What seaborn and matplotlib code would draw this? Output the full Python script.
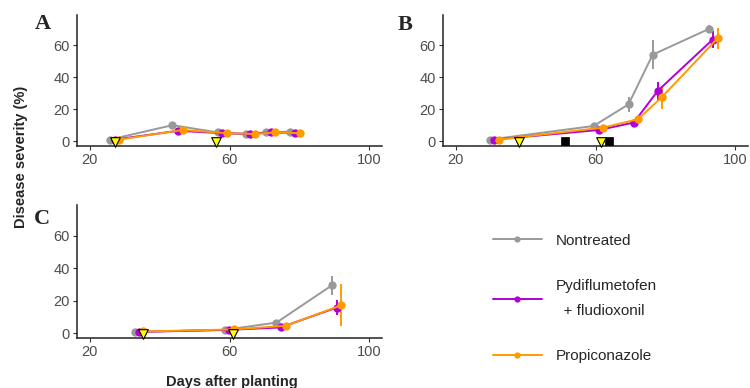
import numpy as np
import pandas as pd
import matplotlib
matplotlib.use("Agg")
import matplotlib.pyplot as plt
from matplotlib.lines import Line2D
import seaborn as sns

sns.set_theme(style="white")
plt.rcParams['font.family'] = ['Liberation Sans', 'DejaVu Sans']

treatments = ["Nontreated", "Pydiflumetofen + fludioxonil", "Propiconazole"]
colors = {"Nontreated": "#999999",
          "Pydiflumetofen + fludioxonil": "#B000D8",
          "Propiconazole": "#FF9A00"}

# Panel A
a_days_nt = [25.7, 43.6, 56.6, 64.8, 70.5, 77.4]
a_sev_nt = [1, 10, 5.5, 4.5, 5.5, 6]
a_err_nt = [0.5, 1.0, 0.5, 0.5, 0.5, 0.5]
a_days_pf = [27.1, 45.2, 57.9, 65.9, 71.9, 78.8]
a_sev_pf = [1, 6.5, 5, 4.5, 5.5, 5]
a_err_pf = [0.3, 0.8, 0.5, 0.5, 0.5, 0.5]
a_days_pr = [28.4, 46.5, 59.3, 67.2, 73.1, 80.2]
a_sev_pr = [1, 7, 5, 4.5, 5.5, 5]
a_err_pr = [0.3, 0.8, 0.5, 0.5, 0.5, 0.5]
a_spray = [27.1, 56.2]
a_other = []

# Panel B
b_days_nt = [29.7, 59.4, 69.4, 76.3, 92.3]
b_sev_nt = [1, 9.5, 23, 54, 70]
b_err_nt = [0.5, 1.5, 4.5, 9, 2.5]
b_days_pf = [30.9, 60.9, 70.9, 77.8, 93.5]
b_sev_pf = [1, 7, 11.6, 31.5, 63.5]
b_err_pf = [0.5, 1, 1, 5.5, 5]
b_days_pr = [32.3, 62.1, 72.1, 78.9, 94.9]
b_sev_pr = [1, 8.5, 13.7, 27.4, 64.2]
b_err_pr = [0.5, 1, 1, 7, 6.5]
b_spray = [38.0, 61.6]
b_other = [51.1, 63.9]

# Panel C
c_days_nt = [32.9, 58.6, 73.4, 89.2]
c_sev_nt = [0.7, 2, 6.5, 29.3]
c_err_nt = [0.3, 0.5, 1, 6]
c_days_pf = [34.1, 59.8, 74.6, 90.6]
c_sev_pf = [0.8, 2, 3.5, 15.7]
c_err_pf = [0.3, 0.5, 0.8, 4.5]
c_days_pr = [35.2, 61.2, 76.0, 91.9]
c_sev_pr = [1, 2.3, 4.5, 17.1]
c_err_pr = [0.3, 0.5, 0.8, 13]
c_spray = [35.2, 60.9]
c_other = []

panels = {
    "A": ([a_days_nt, a_days_pf, a_days_pr], [a_sev_nt, a_sev_pf, a_sev_pr],
          [a_err_nt, a_err_pf, a_err_pr], a_spray, a_other),
    "B": ([b_days_nt, b_days_pf, b_days_pr], [b_sev_nt, b_sev_pf, b_sev_pr],
          [b_err_nt, b_err_pf, b_err_pr], b_spray, b_other),
    "C": ([c_days_nt, c_days_pf, c_days_pr], [c_sev_nt, c_sev_pf, c_sev_pr],
          [c_err_nt, c_err_pf, c_err_pr], c_spray, c_other),
}

W, H = 750, 388
fig = plt.figure(figsize=(7.5, 3.88), dpi=100)

def rect(l, r, t, b):
    return [l / W, 1 - b / H, (r - l) / W, (b - t) / H]

axes_rects = {"A": rect(77, 382, 15, 146),
              "B": rect(443, 748, 15, 146),
              "C": rect(77, 382, 205, 338)}
letter_pos = {"A": (43, 24), "B": (405, 25), "C": (42, 219)}

tick_color = "#4D4D4D"
for key, (days, sevs, errs, spray, other) in panels.items():
    ax = fig.add_axes(axes_rects[key])
    rows = []
    for t, d, s, e in zip(treatments, days, sevs, errs):
        for di, si, ei in zip(d, s, e):
            rows.append({"trt": t, "days": di, "sev": si, "err": ei})
    df = pd.DataFrame(rows)
    for t in treatments:
        sub = df[df.trt == t]
        ax.errorbar(sub.days, sub.sev, yerr=sub.err, fmt="none",
                    ecolor=colors[t], elinewidth=1.4, capsize=0, zorder=2)
    sns.lineplot(data=df, x="days", y="sev", hue="trt", hue_order=treatments,
                 palette=colors, marker="o", markersize=6, markeredgewidth=0,
                 linewidth=1.4, estimator=None, sort=False, errorbar=None,
                 legend=False, ax=ax, zorder=3)
    if other:
        sns.scatterplot(x=other, y=[0] * len(other), marker="s", s=36,
                        color="black", edgecolor="black", linewidth=0.5,
                        ax=ax, zorder=5, clip_on=False, legend=False)
    sns.scatterplot(x=spray, y=[-0.8] * len(spray), marker="v", s=48,
                    color="#FFFF00", edgecolor="black", linewidth=0.8,
                    ax=ax, zorder=6, clip_on=False, legend=False)
    ax.set_xlim(16.3, 103.6)
    ax.set_ylim(-3.0, 78.8)
    ax.set_xticks([20, 60, 100])
    ax.set_yticks([0, 20, 40, 60])
    ax.set_xlabel("")
    ax.set_ylabel("")
    for s in ["top", "right"]:
        ax.spines[s].set_visible(False)
    for s in ["left", "bottom"]:
        ax.spines[s].set_color("#222222")
        ax.spines[s].set_linewidth(1.1)
    ax.tick_params(axis="both", which="both", direction="out", length=3,
                   width=0.8, color="#333333", labelsize=10.5,
                   labelcolor=tick_color, pad=2, bottom=True, left=True)
    lx, ly = letter_pos[key]
    fig.text(lx / W, 1 - ly / H, key, fontsize=16, fontweight="bold",
             family="Liberation Serif", ha="center", va="center")

fig.text(21 / W, 1 - 157 / H, "Disease severity (%)", rotation=90,
         fontsize=10.5, fontweight="bold", ha="center", va="center")
fig.text(232 / W, 1 - 375 / H, "Days after planting", fontsize=10.5,
         fontweight="bold", ha="center", va="top")

legend_labels = ["Nontreated", "Pydiflumetofen\n  + fludioxonil", "Propiconazole"]
handles = [Line2D([0], [0], color=colors[t], lw=1.4, marker="o", markersize=4.5,
                  markeredgewidth=0) for t in treatments]
leg = fig.legend(handles, legend_labels, loc="center left",
                 bbox_to_anchor=(485 / W, 1 - 298.5 / H), frameon=False,
                 fontsize=11, handlelength=3.2, handletextpad=0.9,
                 labelspacing=2.05, borderpad=0)
for txt in leg.get_texts():
    txt.set_linespacing(2.0)

fig.savefig("out.png", dpi=100)
